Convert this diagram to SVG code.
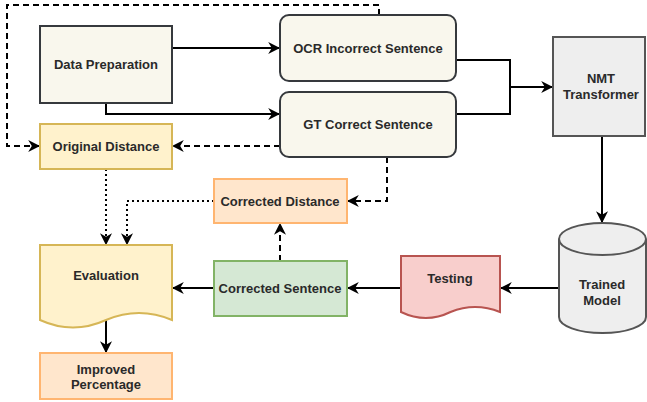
<svg xmlns="http://www.w3.org/2000/svg" width="647" height="402" viewBox="0 0 647 402">
<defs>
<marker id="arr" viewBox="0 0 10 10" refX="9" refY="5" markerWidth="6" markerHeight="6" orient="auto" markerUnits="strokeWidth">
<path d="M0,0 L10,5 L0,10 L3,5 z" fill="#000"/>
</marker>
<style>
text{font-family:"Liberation Sans",Arial,sans-serif;font-size:13px;font-weight:bold;fill:#2a2a2a;text-anchor:middle;dominant-baseline:central}
.ln{fill:none;stroke:#000;stroke-width:2;marker-end:url(#arr)}
.nm{fill:none;stroke:#000;stroke-width:2}
.da{stroke-dasharray:6 4}
.do{stroke-dasharray:2 3}
.beige{fill:#f9f7ed;stroke:#36393d;stroke-width:2}
.gray{fill:#eeeeee;stroke:#555;stroke-width:2}
.yel{fill:#fff2cc;stroke:#d6b656;stroke-width:2}
.ora{fill:#ffe6cc;stroke:#ffb570;stroke-width:2}
.grn{fill:#d5e8d4;stroke:#82b366;stroke-width:2}
.red{fill:#f8cecc;stroke:#b85450;stroke-width:2}
</style>
</defs>
<g id="connectors">
<path class="ln" d="M172,48 H279"/>
<path class="ln" d="M106,103 V114 H279"/>
<path class="nm" d="M456,60 H510 V114 H456"/>
<path class="ln" d="M510,87 H552"/>
<path class="ln da" d="M379,15 V5 H7 V146 H39"/>
<path class="ln da" d="M280,146 H173"/>
<path class="ln" d="M602,136 V222"/>
<path class="ln" d="M559,288 H501"/>
<path class="ln" d="M401,288 H348"/>
<path class="ln" d="M214,288 H173"/>
<path class="ln da" d="M280,261 V224"/>
<path class="ln da" d="M387,157 V201 H348"/>
<path class="ln do" d="M106,169 V244"/>
<path class="ln do" d="M214,201 H127 V244"/>
<path class="ln" d="M106,320 V352"/>
</g>
<g id="data-preparation">
<rect class="beige" x="40" y="26" width="132" height="77"/>
<text x="106" y="64">Data Preparation</text>
</g>
<g id="ocr-incorrect">
<rect class="beige" x="280" y="15" width="176" height="66" rx="9"/>
<text x="368" y="48">OCR Incorrect Sentence</text>
</g>
<g id="gt-correct">
<rect class="beige" x="280" y="92" width="176" height="65" rx="9"/>
<text x="368" y="124">GT Correct Sentence</text>
</g>
<g id="original-distance">
<rect class="yel" x="40" y="124" width="132" height="45"/>
<text x="106" y="146">Original Distance</text>
</g>
<g id="nmt-transformer">
<rect class="gray" x="553" y="37" width="92" height="99"/>
<text x="601" y="78">NMT</text>
<text x="601" y="94">Transformer</text>
</g>
<g id="trained-model">
<path class="gray" d="M559,239 A43.5,16 0 0 1 646,239 V317 A43.5,16 0 0 1 559,317 Z"/>
<path class="nm" style="stroke:#555" d="M559,239 A43.5,16 0 0 0 646,239"/>
<text x="602" y="284">Trained</text>
<text x="602" y="300">Model</text>
</g>
<g id="testing">
<path class="red" d="M401,256 H500 V312 Q475,302 450.5,312 Q426,324 401,312 Z"/>
<text x="450" y="278">Testing</text>
</g>
<g id="corrected-sentence">
<rect class="grn" x="214" y="261" width="133" height="55"/>
<text x="280" y="288">Corrected Sentence</text>
</g>
<g id="corrected-distance">
<rect class="ora" x="214" y="179" width="133" height="44"/>
<text x="280" y="201">Corrected Distance</text>
</g>
<g id="evaluation">
<path class="yel" d="M40,245 H172 V320 Q139,306 106,320 Q73,335 40,320 Z"/>
<text x="106" y="275">Evaluation</text>
</g>
<g id="improved-percentage">
<rect class="ora" x="40" y="353" width="132" height="46"/>
<text x="106" y="369">Improved</text>
<text x="106" y="384">Percentage</text>
</g>
</svg>
